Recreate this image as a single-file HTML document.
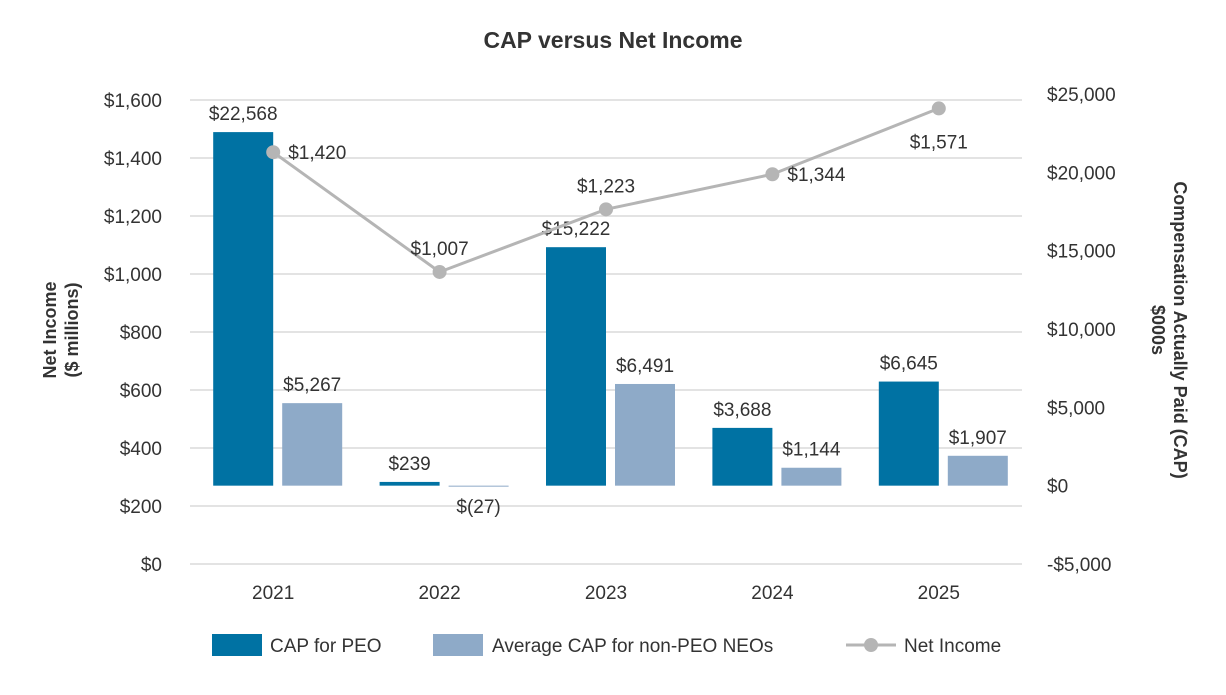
<!DOCTYPE html>
<html><head><meta charset="utf-8">
<style>
body{margin:0;background:#fff;font-family:"Liberation Sans",Arial,sans-serif;}
svg text{font-family:"Liberation Sans",Arial,sans-serif;fill:#333;}
</style></head>
<body>
<svg id="chart" width="1226" height="690" viewBox="0 0 1226 690">
<text x="613" y="48" text-anchor="middle" font-size="23" font-weight="bold">CAP versus Net Income</text>
<g id="grid"></g><g id="bars"></g><g id="line"></g><g id="axes"></g>
<text transform="translate(62,330) rotate(-90)" text-anchor="middle" font-size="18" font-weight="bold"><tspan x="0" dy="-6">Net Income</tspan><tspan x="0" dy="22">($ millions)</tspan></text>
<text transform="translate(1168,330) rotate(90)" text-anchor="middle" font-size="18" font-weight="bold"><tspan x="0" dy="-6">Compensation Actually Paid (CAP)</tspan><tspan x="0" dy="22">$000s</tspan></text>
<g>
<rect x="212" y="634" width="50" height="22" fill="#0072a3"/>
<text x="270" y="652" font-size="19">CAP for PEO</text>
<rect x="433" y="634" width="50" height="22" fill="#8eaac8"/>
<text x="492" y="652" font-size="19">Average CAP for non-PEO NEOs</text>
<line x1="846" y1="645" x2="896" y2="645" stroke="#b5b5b5" stroke-width="3"/>
<circle cx="871" cy="645" r="7" fill="#b5b5b5"/>
<text x="904" y="652" font-size="19">Net Income</text>
</g>
</svg>
<script>
const categories=["2021","2022","2023","2024","2025"];
const capPeo=[22568,239,15222,3688,6645];
const capNeo=[5267,-27,6491,1144,1907];
const netIncome=[1420,1007,1223,1344,1571];
const leftTicks=[0,200,400,600,800,1000,1200,1400,1600];
const rightTicks=[-5000,0,5000,10000,15000,20000,25000];
const niLabelPos=["right","above","above","right","below"];

const NS="http://www.w3.org/2000/svg";
const x0=190,x1=1022;
const yL=v=>564-v/1600*464;
const yR=v=>564-(v+5000)/30000*470;
const xC=i=>x0+(x1-x0)/categories.length*(i+0.5);
function mk(tag,attrs,parent,txt){const e=document.createElementNS(NS,tag);for(const k in attrs)e.setAttribute(k,attrs[k]);if(txt!==undefined)e.textContent=txt;parent.appendChild(e);return e;}
const fmt=v=>v<0?"$("+Math.abs(v).toLocaleString("en-US")+")":"$"+v.toLocaleString("en-US");
const fmtR=v=>v<0?"-$"+Math.abs(v).toLocaleString("en-US"):"$"+v.toLocaleString("en-US");
const grid=document.getElementById("grid"),axes=document.getElementById("axes"),bars=document.getElementById("bars"),line=document.getElementById("line");
leftTicks.forEach(t=>{
 const g=mk("line",{x1:x0,x2:x1,y1:yL(t),y2:yL(t),stroke:"#e3e3e3","stroke-width":2},grid);
 
 
 const l=mk("text",{x:162,y:yL(t)+7,"text-anchor":"end","font-size":19},axes,fmt(t));
 
 
});
rightTicks.forEach(t=>{
 const l=mk("text",{x:1047,y:yR(t)+7,"font-size":19},axes,fmtR(t));
 
 
});
categories.forEach((c,i)=>{
 const l=mk("text",{x:xC(i),y:599,"text-anchor":"middle","font-size":19},axes,c);
 
 
 const z=yR(0);
 [[capPeo[i],xC(i)-60,"#0072a3","bar-cap-peo"],[capNeo[i],xC(i)+9,"#8eaac8","bar-cap-neo"]].forEach(([v,x,col,nm])=>{
  const y=yR(v);
  const r=mk("rect",{x:x,y:Math.min(y,z),width:60,height:Math.max(Math.abs(z-y),1),fill:col},bars);
  
  
  const ty=v>=0?Math.min(y,z)-12:Math.max(y,z)+27;
  const t=mk("text",{x:x+30,y:ty,"text-anchor":"middle","font-size":19},bars,fmt(v));
  
  
 });
});
const pts=netIncome.map((v,i)=>xC(i)+","+yL(v)).join(" ");
const pl=mk("polyline",{points:pts,fill:"none",stroke:"#b5b5b5","stroke-width":3},line);


netIncome.forEach((v,i)=>{
 const cx=xC(i),cy=yL(v);
 const c=mk("circle",{cx:cx,cy:cy,r:7,fill:"#b5b5b5"},line);
 
 
 const p=niLabelPos[i];
 let a={x:cx,y:cy-17,"text-anchor":"middle","font-size":19};
 if(p==="right")a={x:cx+15,y:cy+7,"text-anchor":"start","font-size":19};
 if(p==="below")a={x:cx,y:cy+40,"text-anchor":"middle","font-size":19};
 const t=mk("text",a,line,fmt(v));
 
 
});
</script>
</body></html>
